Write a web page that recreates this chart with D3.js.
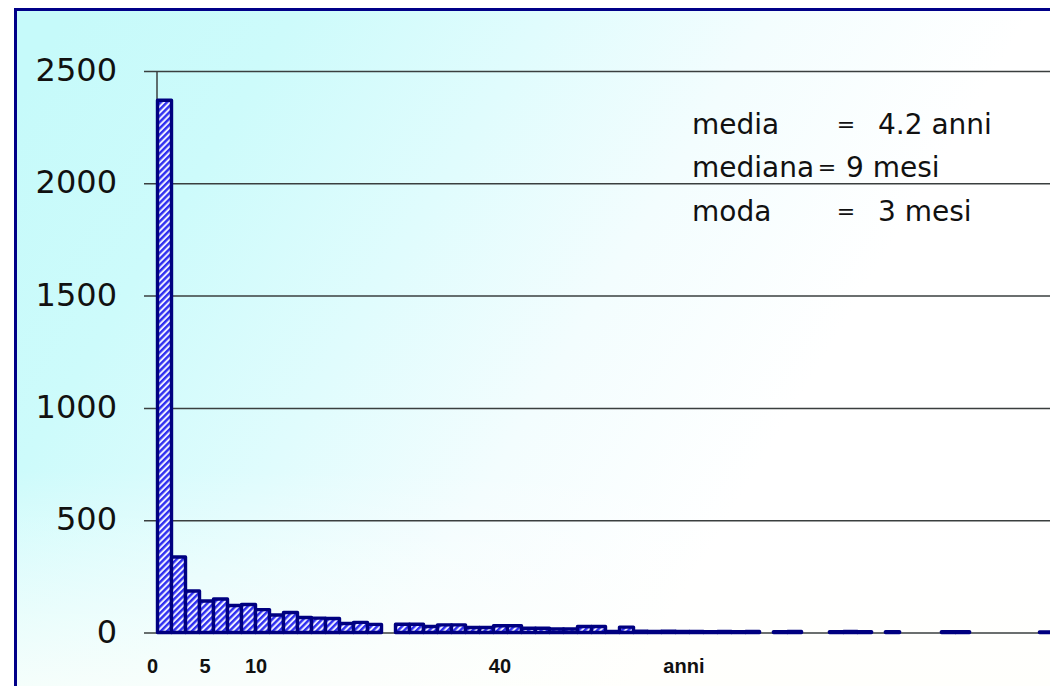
<!DOCTYPE html>
<html>
<head>
<meta charset="utf-8">
<script src="https://cdn.jsdelivr.net/npm/d3@7"></script>
<style>
  html, body { margin: 0; padding: 0; background: #ffffff; overflow: hidden; }
  svg { display: block; }
</style>
</head>
<body>
<svg id="chart" width="1050" height="686"></svg>
<script>
// Durata in anni (classi di un anno) e numero di casi per classe
const classi = d3.range(64);
const casi = [2370, 336, 185, 140, 149, 120, 125, 102, 78, 89,
              67, 64, 62, 40, 45, 36, 0, 37, 37, 27,
              34, 34, 22, 22, 30, 30, 19, 19, 16, 16,
              27, 27, 5, 24, 6, 5, 6, 5, 5, 4,
              5, 4, 5, 0, 4, 5, 0, 0, 4, 5,
              4, 0, 4, 0, 0, 0, 4, 4, 0, 0,
              0, 0, 0, 3];

// Valori dell'asse verticale
const yTicks = [0, 500, 1000, 1500, 2000, 2500];

// Etichette dell'asse orizzontale e loro posizione (in classi)
const xLabels = ["0", "5", "10", "40", "anni"];
const xLabelPos = [-0.36, 3.39, 7.04, 24.46, 37.6];

// Indici statistici riportati nel riquadro
const statNomi = ["media", "mediana", "moda"];
const statValori = ["4.2 anni", "9 mesi", "3 mesi"];

const W = 1050, H = 686;
const svg = d3.select("#chart");
const defs = svg.append("defs");

// Sfondo sfumato: azzurro in alto a sinistra, bianco verso destra e in basso
const grad = defs.append("linearGradient")
  .attr("id", "sfondo")
  .attr("gradientUnits", "userSpaceOnUse")
  .attr("x1", 15).attr("y1", 100)
  .attr("x2", 850).attr("y2", 600);
[[0, "#c6fafa"], [0.2, "#cdfbfb"], [0.42, "#e0fcfd"], [0.62, "#f3fdfe"], [0.85, "#ffffff"]]
  .forEach(([o, c]) => grad.append("stop").attr("offset", o).attr("stop-color", c));

// Schiarimento verso il bordo inferiore
const fade = defs.append("linearGradient")
  .attr("id", "schiarimento")
  .attr("gradientUnits", "userSpaceOnUse")
  .attr("x1", 0).attr("y1", 470)
  .attr("x2", 0).attr("y2", H);
fade.append("stop").attr("offset", 0).attr("stop-color", "#ffffff").attr("stop-opacity", 0);
fade.append("stop").attr("offset", 1).attr("stop-color", "#fffffb").attr("stop-opacity", 0.75);

// Tratteggio diagonale delle barre
const hatch = defs.append("pattern")
  .attr("id", "tratteggio")
  .attr("patternUnits", "userSpaceOnUse")
  .attr("width", 4.4).attr("height", 4.4)
  .attr("patternTransform", "rotate(45)");
hatch.append("rect").attr("width", 4.4).attr("height", 4.4).attr("fill", "#eeeeff");
hatch.append("rect").attr("width", 2.4).attr("height", 4.4).attr("fill", "#2e2ef0");

// Riquadro
svg.append("rect")
  .attr("x", 15.5).attr("y", 9.5)
  .attr("width", W).attr("height", H)
  .attr("fill", "url(#sfondo)");
svg.append("rect")
  .attr("x", 15.5).attr("y", 9.5)
  .attr("width", W).attr("height", H)
  .attr("fill", "url(#schiarimento)");
svg.append("path")
  .attr("d", `M15.5,${H} V9.5 H${W}`)
  .attr("fill", "none")
  .attr("stroke", "#000088")
  .attr("stroke-width", 3);

// Scale
const barW = 14;
const x0 = 157.5;
const x = d3.scaleLinear().domain([0, classi.length]).range([x0, x0 + barW * classi.length]);
const y = d3.scaleLinear().domain([0, 2500]).range([632.5, 71]);

// Griglia e valori dell'asse verticale
const gridLeft = 144;
const yAxis = svg.append("g")
  .attr("transform", `translate(${gridLeft},0)`)
  .call(d3.axisLeft(y)
    .tickValues(yTicks)
    .tickFormat(d3.format("d"))
    .tickSizeInner(-(W - gridLeft))
    .tickSizeOuter(0)
    .tickPadding(27));
yAxis.select(".domain").remove();
yAxis.selectAll(".tick line")
  .attr("stroke", "#3a3f3f")
  .attr("stroke-width", 1.5);
yAxis.selectAll(".tick text")
  .attr("fill", "#111")
  .attr("font-family", "'DejaVu Sans', sans-serif")
  .attr("font-size", 32)
  .attr("dy", "0.3em");

// Asse verticale
svg.append("line")
  .attr("x1", x0 - 0.5).attr("x2", x0 - 0.5)
  .attr("y1", y(2500)).attr("y2", y(0))
  .attr("stroke", "#3a3f3f")
  .attr("stroke-width", 1.5);

// Barre dell'istogramma
const dati = classi.map((c, i) => ({ c, v: casi[i] })).filter(d => d.v > 0);
svg.append("g")
  .selectAll("rect")
  .data(dati)
  .join("rect")
  .attr("x", d => x(d.c))
  .attr("width", d => x(d.c + 1) - x(d.c))
  .attr("y", d => y(d.v))
  .attr("height", d => y(0) - y(d.v))
  .attr("fill", "url(#tratteggio)")
  .attr("stroke", "#000080")
  .attr("stroke-width", 3.4)
  .attr("stroke-linejoin", "round");

// Etichette dell'asse orizzontale
svg.append("g")
  .selectAll("text")
  .data(xLabels)
  .join("text")
  .attr("x", (d, i) => x(xLabelPos[i]))
  .attr("y", 672.5)
  .attr("text-anchor", "middle")
  .attr("font-family", "'Liberation Sans', Arial, sans-serif")
  .attr("font-weight", "bold")
  .attr("font-size", 20)
  .attr("fill", "#111")
  .text(d => d);

// Riquadro con media, mediana e moda
const statY = [134, 177, 221];
const eqX = [846, 827, 846];
const valX = [878, 846, 878];
const stat = svg.append("g")
  .attr("font-family", "'DejaVu Sans', sans-serif")
  .attr("fill", "#111");
statNomi.forEach((n, i) => {
  stat.append("text").attr("x", 692).attr("y", statY[i])
    .attr("font-size", 28).text(n);
  stat.append("text").attr("x", eqX[i]).attr("y", statY[i] - 2)
    .attr("text-anchor", "middle")
    .attr("font-size", 22).text("=");
  stat.append("text").attr("x", valX[i]).attr("y", statY[i])
    .attr("font-size", 28).text(statValori[i]);
});
</script>
</body>
</html>
